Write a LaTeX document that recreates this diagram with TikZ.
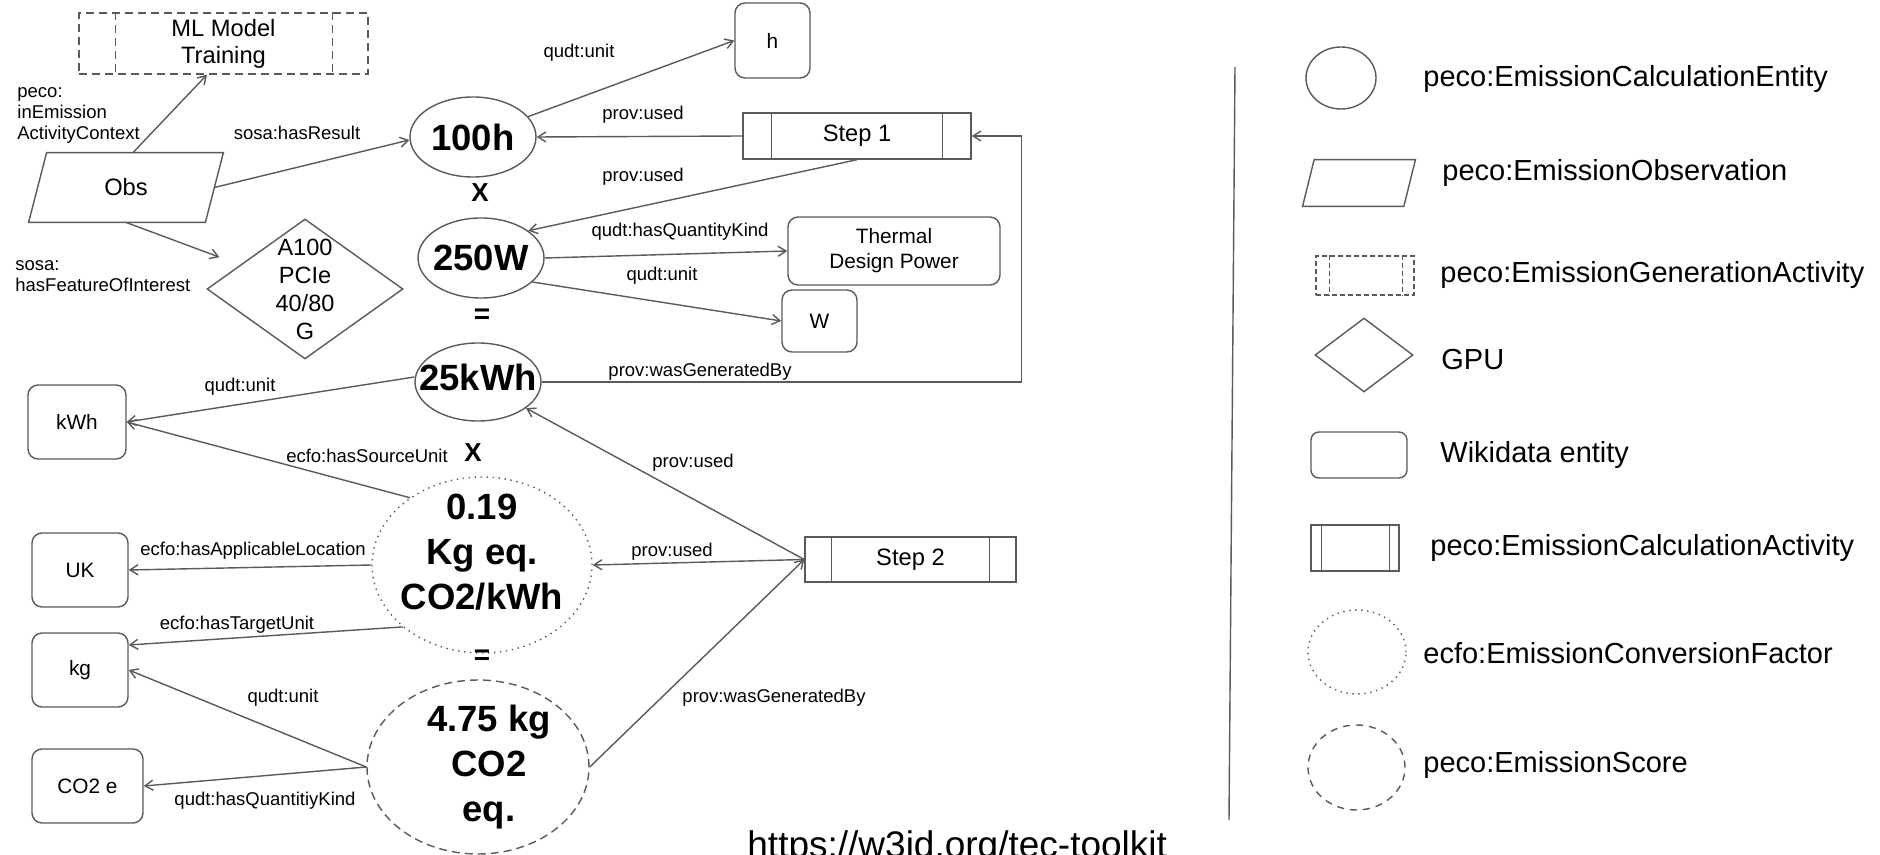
\documentclass[tikz,border=0pt]{standalone}
\usepackage{fontspec}
\setmainfont{Liberation Sans}
\usetikzlibrary{shapes.geometric,arrows.meta}
\definecolor{lc}{HTML}{5A5A5A}
\begin{document}
\begin{tikzpicture}[x=0.5pt,y=-0.5pt,
  base/.style={draw=lc, line width=0.7pt, inner sep=0pt},
  wiki/.style={base, rounded corners=5pt, font=\fontsize{10.4}{12.5}\selectfont, align=center},
  calc/.style={base, font=\fontsize{11.85}{13.5}\selectfont},
  ent/.style={base, ellipse},
  dotline/.style={dash pattern=on 0.7pt off 2.3pt},
  dashline/.style={dash pattern=on 4pt off 2.5pt},
  smalldash/.style={dash pattern=on 2.5pt off 1.5pt},
  lbl/.style={font=\fontsize{9.25}{10.5}\selectfont, inner sep=0pt},
  big/.style={font=\bfseries\fontsize{18.25}{22.5}\selectfont, align=center, inner sep=0pt},
  gputxt/.style={font=\fontsize{11.75}{14}\selectfont, align=center, inner sep=0pt},
  arr/.style={draw=lc, line width=0.7pt, -{Straight Barb[length=4pt,width=5pt]}},
  opx/.style={font=\bfseries\fontsize{13}{15}\selectfont, inner sep=0pt},
  opeq/.style={font=\bfseries\fontsize{14}{16}\selectfont, inner sep=0pt},
  leg/.style={font=\fontsize{14.5}{17}\selectfont, anchor=west, inner sep=0pt}
]
\useasboundingbox (0,0) rectangle (1880,855);
\fill[white] (0,0) rectangle (1880,855);

% ---------- main nodes ----------
\node[base, dashline, minimum width=144.5pt, minimum height=30.5pt,
      font=\fontsize{11.85}{13.5}\selectfont, align=center] (ml) at (223.5,43.5) {ML Model\\Training};
\draw[base, dashline] ([xshift=18.5pt]ml.north west) -- ([xshift=18.5pt]ml.south west);
\draw[base, dashline] ([xshift=-18pt]ml.north east) -- ([xshift=-18pt]ml.south east);

\node[minimum width=88pt, minimum height=34.5pt, inner sep=0pt,
      font=\fontsize{11.85}{13.5}\selectfont] (obs) at (126,187.5) {Obs};
\draw[base] ([xshift=-4.5pt]obs.south west) -- ([xshift=-4.5pt]obs.south east)
  -- ([xshift=4.5pt]obs.north east) -- ([xshift=4.5pt]obs.north west) -- cycle;

\node[base, diamond, minimum width=98pt, minimum height=70pt,
      label={[gputxt]center:{A100\\PCIe\\40/80\\G}}] (gpu) at (305,289) {};

\node[ent, minimum width=63pt, minimum height=40pt, label={[big]center:100h}] (e100) at (473,137) {};
\node[ent, minimum width=63pt, minimum height=40pt, label={[big]center:250W}] (e250) at (481,258) {};
\node[ent, minimum width=63pt, minimum height=39pt, label={[big,yshift=2.5pt]center:25kWh}] (e25) at (478,382) {};
\node[ent, dotline, minimum width=110pt, minimum height=88pt,
      label={[big,yshift=6.5pt]center:{0.19\\Kg eq.\\CO2/kWh}}] (e019) at (482,565) {};
\node[ent, dashline, minimum width=111pt, minimum height=87pt,
      label={[big,xshift=5.5pt]center:{4.75 kg\\CO2\\eq.}}] (e475) at (478,767) {};

\node[wiki, minimum width=37.5pt, minimum height=37.5pt] (h) at (772.5,40.5) {h};
\node[wiki, minimum width=106pt, minimum height=34pt] (tdp) at (894,251) {Thermal\\Design Power};
\node[wiki, minimum width=37.5pt, minimum height=31pt] (w) at (819.5,321) {W};
\node[wiki, minimum width=49pt, minimum height=37pt] (kwh) at (77,422) {kWh};
\node[wiki, minimum width=48pt, minimum height=37pt] (uk) at (80,570) {UK};
\node[wiki, minimum width=48pt, minimum height=37pt] (kg) at (80,670) {kg};
\node[wiki, minimum width=55.5pt, minimum height=37pt] (co2e) at (87.5,786) {CO2 e};

\node[calc, minimum width=114pt, minimum height=23pt] (step1) at (857,136) {Step 1};
\draw[base] ([xshift=14.5pt]step1.north west) -- ([xshift=14.5pt]step1.south west);
\draw[base] ([xshift=-14.5pt]step1.north east) -- ([xshift=-14.5pt]step1.south east);
\node[calc, minimum width=105.5pt, minimum height=22.5pt] (step2) at (910.5,559.5) {Step 2};
\draw[base] ([xshift=13.5pt]step2.north west) -- ([xshift=13.5pt]step2.south west);
\draw[base] ([xshift=-13.5pt]step2.north east) -- ([xshift=-13.5pt]step2.south east);

% ---------- connectors ----------
\draw[arr] ([xshift=3.5pt]obs.north) -- ([xshift=-8.25pt]ml.south);
\draw[arr] (obs.east) -- ([yshift=-1.5pt]e100.west);
\draw[arr, shorten >=11pt] (obs.south) -- (gpu);
\draw[arr] (e100) -- (h.west);
\draw[arr] (step1.west) -- (e100.east);
\draw[arr] (step1.south) -- (e250.30);
\draw[arr] (e250.east) -- (tdp.west);
\draw[arr] (e250.-25) -- (w.west);
\draw[arr] (e25.east) -| ([xshift=25pt]step1.east) -- (step1.east);
\draw[arr] ([yshift=2.5pt]e25.west) -- (kwh.east);
\draw[arr] (step2.west) -- (e25);
\draw[arr] (step2.west) -- (e019.east);
\draw[arr] (e475.east) -- (step2.west);
\draw[arr] (e019.137) -- (kwh.east);
\draw[arr] (e019.west) -- (uk.east);
\draw[arr] (e019.218) -- ([yshift=12.5pt]kg.east);
\draw[arr] (e475.west) -- (kg.east);
\draw[arr] (e475.west) -- (co2e.east);

% ---------- connector labels ----------
\node[lbl, anchor=west, align=left] (l1) at (17,115) {peco:\\inEmission\\ActivityContext};
\node[lbl] (l2) at (297,133) {sosa:hasResult};
\node[lbl, anchor=west, align=left] (l3) at (15,276) {sosa:\\hasFeatureOfInterest};
\node[lbl] (l4) at (579,53) {qudt:unit};
\node[lbl] (l5) at (643,115) {prov:used};
\node[lbl] (l6) at (643,177) {prov:used};
\node[lbl] (l7) at (680,232) {qudt:hasQuantityKind};
\node[lbl] (l8) at (662,276) {qudt:unit};
\node[lbl] (l9) at (700,372) {prov:wasGeneratedBy};
\node[lbl] (l10) at (240,387) {qudt:unit};
\node[lbl] (l11) at (367,456) {ecfo:hasSourceUnit};
\node[lbl] (l12) at (253,551) {ecfo:hasApplicableLocation};
\node[lbl] (l13) at (237,625) {ecfo:hasTargetUnit};
\node[lbl] (l14) at (283,698) {qudt:unit};
\node[lbl] (l15) at (265,801) {qudt:hasQuantitiyKind};
\node[lbl] (l16) at (693,463) {prov:used};
\node[lbl] (l17) at (672,552) {prov:used};
\node[lbl] (l18) at (774,698) {prov:wasGeneratedBy};

% ---------- operators ----------
\node[opx] (op1) at (480,193) {X};
\node[opeq] (op2) at (482,316) {=};
\node[opx] (op3) at (473,453) {X};
\node[opeq] (op4) at (482,657) {=};

\node[font=\fontsize{18.5}{22}\selectfont, anchor=base west, inner sep=0pt] (url) at (747,857) {https://w3id.org/tec-toolkit};

% ---------- legend ----------
\coordinate (sepTop) at (1235,67);
\coordinate (sepBot) at (1229,820);
\draw[draw=lc, line width=0.7pt] (sepTop) -- (sepBot);

\node[ent, minimum width=35pt, minimum height=31pt] (lg1) at (1341,78) {};
\node[minimum width=50.25pt, minimum height=23pt, inner sep=0pt] (lg2) at (1359,183) {};
\draw[base] ([xshift=-2.9pt]lg2.south west) -- ([xshift=-2.9pt]lg2.south east)
  -- ([xshift=2.9pt]lg2.north east) -- ([xshift=2.9pt]lg2.north west) -- cycle;
\node[base, smalldash, minimum width=49pt, minimum height=19.5pt] (lg3) at (1365,275.5) {};
\draw[base, smalldash] ([xshift=7pt]lg3.north west) -- ([xshift=7pt]lg3.south west);
\draw[base, smalldash] ([xshift=-6pt]lg3.north east) -- ([xshift=-6pt]lg3.south east);
\node[base, diamond, minimum width=49pt, minimum height=37pt] (lg4) at (1364,355) {};
\node[base, rounded corners=4pt, minimum width=48pt, minimum height=23pt] (lg5) at (1359,455) {};
\node[base, minimum width=44pt, minimum height=23pt] (lg6) at (1355,548) {};
\draw[base] ([xshift=5.5pt]lg6.north west) -- ([xshift=5.5pt]lg6.south west);
\draw[base] ([xshift=-5pt]lg6.north east) -- ([xshift=-5pt]lg6.south east);
\node[ent, dotline, minimum width=49pt, minimum height=42pt] (lg7) at (1357,652) {};
\node[ent, dash pattern=on 3.5pt off 3pt, minimum width=48.5pt, minimum height=42.5pt] (lg8) at (1356.5,767.5) {};

\node[leg] (t1) at (1423,79) {peco:EmissionCalculationEntity};
\node[leg] (t2) at (1442,173) {peco:EmissionObservation};
\node[leg] (t3) at (1440,275) {peco:EmissionGenerationActivity};
\node[leg] (t4) at (1441,360) {GPU};
\node[leg] (t5) at (1440,455) {Wikidata entity};
\node[leg] (t6) at (1430,548) {peco:EmissionCalculationActivity};
\node[leg] (t7) at (1423,653) {ecfo:EmissionConversionFactor};
\node[leg] (t8) at (1423,765) {peco:EmissionScore};
\end{tikzpicture}
\end{document}
